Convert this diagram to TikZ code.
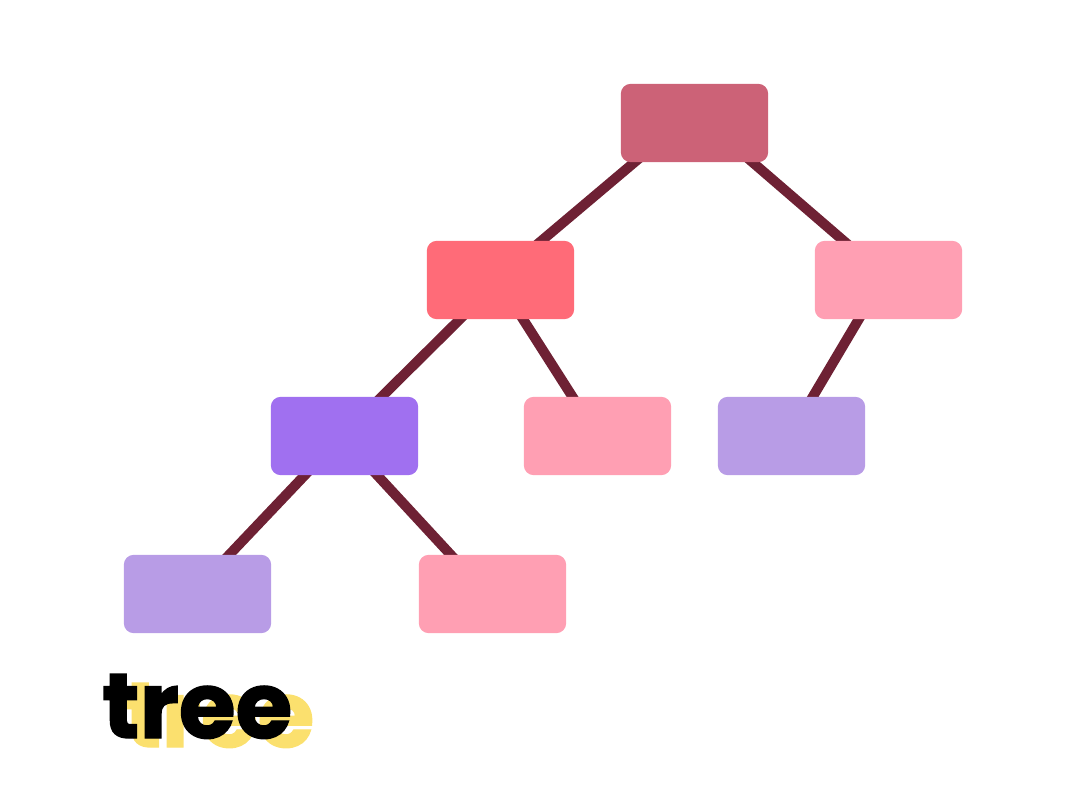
\documentclass[tikz,border=0pt]{standalone}
\usepackage{fontspec}
\newfontfamily\treefont{Poppins}[FakeBold=1.5]
\definecolor{edgecol}{HTML}{6E2134}
\definecolor{rootcol}{HTML}{CC6277}
\definecolor{redcol}{HTML}{FF6B78}
\definecolor{pinkcol}{HTML}{FF9FB3}
\definecolor{purplecol}{HTML}{A070F0}
\definecolor{lavcol}{HTML}{B89CE6}
\definecolor{yellowcol}{HTML}{FBE06E}
\tikzset{
  box/.style={rectangle, rounded corners=10pt, minimum width=147pt, minimum height=78pt, inner sep=0pt, draw=none},
  link/.style={draw=edgecol, line width=10pt},
  title/.style={font=\treefont\bfseries\fontsize{92}{92}\selectfont, inner sep=0pt, anchor=base west}
}
\begin{document}
\begin{tikzpicture}[x=1pt,y=-1pt]
\useasboundingbox (0,0) rectangle (1081,809);
\node[box] (n0) at (694.5,123) {};
\node[box] (n1) at (500.5,280) {};
\node[box] (n2) at (888.5,280) {};
\node[box] (n3) at (344.5,436) {};
\node[box] (n4) at (597.5,436) {};
\node[box] (n5) at (791.5,436) {};
\node[box] (n6) at (197.5,594) {};
\node[box] (n7) at (492.5,594) {};
\draw[link] ([xshift=-13.5pt]n0.center) -- ([xshift=-5.5pt]n1.center);
\draw[link] ([xshift=12.5pt]n0.center) -- ([xshift=0.5pt]n2.center);
\draw[link] ([xshift=-1pt]n1.center) -- ([xshift=-2.5pt]n3.center);
\draw[link] ([xshift=-2.5pt]n1.center) -- (n4.center);
\draw[link] ([xshift=-6.5pt]n2.center) -- ([xshift=-2pt]n5.center);
\draw[link] ([xshift=-2.5pt]n3.center) -- ([xshift=-5.5pt]n6.center);
\draw[link] ([xshift=-3.5pt]n3.center) -- ([xshift=-5.5pt]n7.center);
\fill[rootcol, rounded corners=10pt] (n0.south west) rectangle (n0.north east);
\fill[redcol, rounded corners=10pt] (n1.south west) rectangle (n1.north east);
\fill[pinkcol, rounded corners=10pt] (n2.south west) rectangle (n2.north east);
\fill[purplecol, rounded corners=10pt] (n3.south west) rectangle (n3.north east);
\fill[pinkcol, rounded corners=10pt] (n4.south west) rectangle (n4.north east);
\fill[lavcol, rounded corners=10pt] (n5.south west) rectangle (n5.north east);
\fill[lavcol, rounded corners=10pt] (n6.south west) rectangle (n6.north east);
\fill[pinkcol, rounded corners=10pt] (n7.south west) rectangle (n7.north east);
\node[title, text=yellowcol] (shadow) at (124,747) {tree};
\node[title, text=black] (word) at (102,738) {tree};
\end{tikzpicture}
\end{document}
